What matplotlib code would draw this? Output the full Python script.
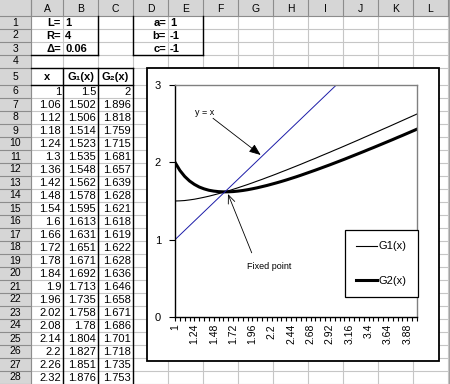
import matplotlib.pyplot as plt
from matplotlib.patches import Rectangle
from matplotlib.lines import Line2D

# -----------------------------
# 1. Data (read off the sheet / chart)
# -----------------------------
x_vals = [1.00, 1.06, 1.12, 1.18, 1.24, 1.30, 1.36, 1.42, 1.48, 1.54,
          1.60, 1.66, 1.72, 1.78, 1.84, 1.90, 1.96, 2.02, 2.08, 2.14,
          2.20, 2.26, 2.32, 2.38, 2.44, 2.50, 2.56, 2.62, 2.68, 2.74,
          2.80, 2.86, 2.92, 2.98, 3.04, 3.10, 3.16, 3.22, 3.28, 3.34,
          3.40, 3.46, 3.52, 3.58, 3.64, 3.70, 3.76, 3.82, 3.88, 3.94, 4.00]
g1_vals = [1.500, 1.502, 1.506, 1.514, 1.523, 1.535, 1.548, 1.562, 1.578, 1.595,
           1.613, 1.631, 1.651, 1.671, 1.692, 1.713, 1.735, 1.758, 1.780, 1.804,
           1.827, 1.851, 1.876, 1.900, 1.925, 1.950, 1.975, 2.001, 2.027, 2.052,
           2.079, 2.105, 2.131, 2.158, 2.184, 2.211, 2.238, 2.265, 2.292, 2.320,
           2.347, 2.375, 2.402, 2.430, 2.457, 2.485, 2.513, 2.541, 2.569, 2.597, 2.625]
g2_vals = [2.000, 1.896, 1.818, 1.759, 1.715, 1.681, 1.657, 1.639, 1.628, 1.621,
           1.618, 1.619, 1.622, 1.628, 1.636, 1.646, 1.658, 1.671, 1.686, 1.701,
           1.718, 1.735, 1.753, 1.772, 1.792, 1.812, 1.833, 1.855, 1.877, 1.899,
           1.922, 1.945, 1.968, 1.992, 2.016, 2.040, 2.065, 2.090, 2.115, 2.140,
           2.166, 2.191, 2.217, 2.243, 2.269, 2.295, 2.322, 2.348, 2.375, 2.402, 2.429]

params_left = [("L=", "1"), ("R=", "4"), ("Δ=", "0.06")]
params_right = [("a=", "1"), ("b=", "-1"), ("c=", "-1")]
table_header = ["x", "G₁(x)", "G₂(x)"]
n_table_rows = 23

col_letters = list("ABCDEFGHIJKL")
legend_labels = ["G1(x)", "G2(x)"]

# -----------------------------
# 2. Sheet geometry (pixels)
# -----------------------------
W, H = 450, 384
col_edges = [0, 31, 63, 98, 133, 168, 203, 238, 273, 308, 343, 378, 413, 448]
row_edges = [0, 16, 29, 42, 55, 68, 85] + [85 + 13 * k for k in range(1, 24)]

FONT = ["Liberation Sans", "DejaVu Sans"]
GRID = "#c6c6c6"
HEAD = "#d6d6d6"

fig = plt.figure(figsize=(W / 100, H / 100), dpi=100)
bg = fig.add_axes([0, 0, 1, 1])
bg.set_xlim(0, W)
bg.set_ylim(H, 0)
bg.axis("off")

# grid lines
for xe in col_edges[1:]:
    bg.plot([xe, xe], [16, H], color=GRID, lw=0.8)
for ye in row_edges[2:]:
    bg.plot([31, 448], [ye, ye], color=GRID, lw=0.8)

# header row / column
bg.add_patch(Rectangle((0, 0), W, 16, fc=HEAD, ec="none"))
bg.add_patch(Rectangle((0, 16), 31, H - 16, fc=HEAD, ec="none"))
bg.add_patch(Rectangle((448, 0), 2, H, fc="#a0a0a0", ec="none"))
for xe in col_edges[1:]:
    bg.plot([xe, xe], [0, 16], color="#8c8c8c", lw=0.8)
bg.plot([0, 448], [16, 16], color="#8c8c8c", lw=0.8)
for ye in row_edges[2:]:
    bg.plot([0, 31], [ye, ye], color="#8c8c8c", lw=0.8)
bg.plot([31, 31], [0, H], color="#8c8c8c", lw=0.8)
for i, c in enumerate(col_letters):
    bg.text((col_edges[i + 1] + col_edges[i + 2]) / 2, 8.5, c, ha="center", va="center",
            fontsize=7.5, family=FONT)
for r in range(1, 29):
    bg.text(15.5, (row_edges[r] + row_edges[r + 1]) / 2, str(r), ha="center", va="center",
            fontsize=7.5, family=FONT)

def cell_mid(r):
    return (row_edges[r] + row_edges[r + 1]) / 2 + 0.5

# parameters
for r, (lab, val) in enumerate(params_left, start=1):
    bg.text(col_edges[2] - 2, cell_mid(r), lab, ha="right", va="center", fontsize=8,
            fontweight="bold", family=FONT)
    bg.text(col_edges[2] + 2, cell_mid(r), val, ha="left", va="center", fontsize=8,
            fontweight="bold", family=FONT)
for r, (lab, val) in enumerate(params_right, start=1):
    bg.text(col_edges[5] - 2, cell_mid(r), lab, ha="right", va="center", fontsize=8,
            fontweight="bold", family=FONT)
    bg.text(col_edges[5] + 2, cell_mid(r), val, ha="left", va="center", fontsize=8,
            fontweight="bold", family=FONT)

# table
for j, h in enumerate(table_header):
    bg.text((col_edges[j + 1] + col_edges[j + 2]) / 2, cell_mid(5), h, ha="center",
            va="center", fontsize=8, fontweight="bold", family=FONT)
for i in range(n_table_rows):
    r = 6 + i
    for j, v in enumerate([x_vals[i], g1_vals[i], g2_vals[i]]):
        bg.text(col_edges[j + 2] - 2, cell_mid(r), f"{v:g}", ha="right", va="center",
                fontsize=8, family=FONT)

# black borders
bk = dict(color="black", lw=1.0)
bg.plot([31, 98], [55, 55], **bk)
bg.plot([98, 98], [16, 55], **bk)
bg.plot([133, 203], [55, 55], **bk)
bg.plot([133, 133], [16, 55], **bk)
bg.plot([203, 203], [16, 55], **bk)
bg.plot([31, 133], [68, 68], **bk)
bg.plot([31, 133], [85, 85], **bk)
for xe in [63, 98, 133]:
    bg.plot([xe, xe], [68, H], **bk)

# chart area box
bg.add_patch(Rectangle((146.5, 67.5), 292.5, 293.5, fc="white", ec="black", lw=1.3, zorder=5))

# -----------------------------
# 3. Chart
# -----------------------------
px_l, px_r, px_t, px_b = 175, 417, 85, 317
ax = fig.add_axes([px_l / W, (H - px_b) / H, (px_r - px_l) / W, (px_b - px_t) / H])
idx = list(range(len(x_vals)))

ax.plot(idx, g1_vals, color="black", lw=0.8)
ax.plot(idx, g2_vals, color="black", lw=2.2)
ax.plot(idx, x_vals, color="#1c1ca8", lw=0.7)

ax.set_xlim(0, len(x_vals) - 1)
ax.set_ylim(0, 3)
ax.set_yticks([0, 1, 2, 3])
ax.set_xticks(idx)
ax.set_xticklabels([f"{v:g}" if i % 4 == 0 else "" for i, v in enumerate(x_vals)],
                   rotation=90, family=FONT)
ax.tick_params(axis="x", direction="out", length=3, width=0.8, labelsize=7.5, pad=2)
ax.tick_params(axis="y", direction="out", length=4, width=0.8, labelsize=8, pad=6)
for lab in ax.get_yticklabels():
    lab.set_family(FONT)
for s in ["top", "right"]:
    ax.spines[s].set_color("#808080")
    ax.spines[s].set_linewidth(1.0)
for s in ["left", "bottom"]:
    ax.spines[s].set_color("black")
    ax.spines[s].set_linewidth(1.0)

ax.text(4.1, 2.65, "y = x", fontsize=6.5, ha="left", va="center", family=FONT)
ax.annotate("", xy=(17.7, 2.095), xytext=(7.85, 2.57),
            arrowprops=dict(arrowstyle="-|>,head_length=0.7,head_width=0.28",
                            color="black", lw=0.6, shrinkA=0, shrinkB=0))
ax.text(14.9, 0.65, "Fixed point", fontsize=6.5, ha="left", va="center", family=FONT)
ax.annotate("", xy=(10.95, 1.59), xytext=(15.85, 0.83),
            arrowprops=dict(arrowstyle="->,head_length=0.6,head_width=0.25",
                            color="black", lw=0.6, shrinkA=0, shrinkB=0))

handles = [Line2D([], [], color="black", lw=0.8), Line2D([], [], color="black", lw=2.2)]
leg = ax.legend(handles, legend_labels, loc="lower left", bbox_to_anchor=(0.702, 0.086),
                frameon=True, fancybox=False, edgecolor="black", framealpha=1,
                prop={"family": FONT, "size": 8}, handlelength=1.9, handletextpad=0.15,
                labelspacing=2.2, borderpad=1.0, borderaxespad=0)
leg.get_frame().set_linewidth(0.9)

fig.savefig("out.png", dpi=100)
